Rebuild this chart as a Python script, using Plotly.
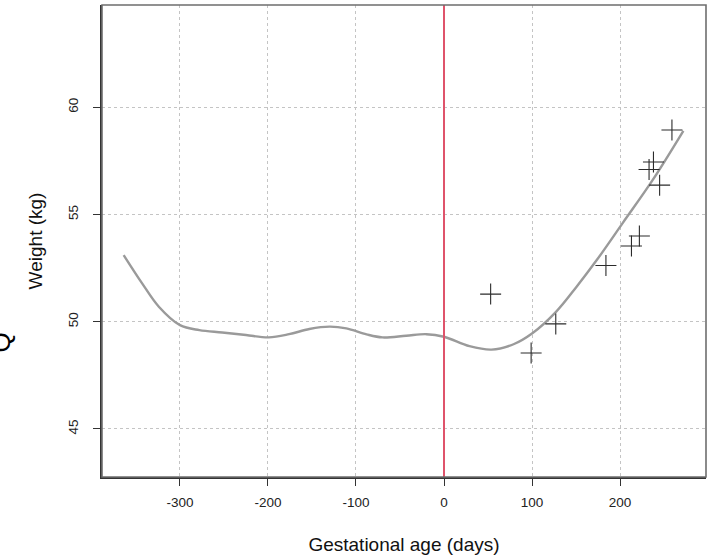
import plotly.graph_objects as go

# Observed data points (gestational age in days, weight in kg)
obs_days = [53, 99, 127, 184, 213, 222, 233, 238, 245, 259]
obs_weight = [51.29, 48.54, 49.9, 52.62, 53.53, 54.0, 57.1, 57.45, 56.37, 58.94]

# Smoothed trajectory
curve_days = [-364, -343, -324, -300, -278, -252, -225, -199, -176, -153, -130, -111,
              -88, -70, -43, -20, 0, 29, 54, 79, 100, 127, 150, 174, 203, 237, 272]
curve_weight = [53.11, 51.79, 50.7, 49.84, 49.61, 49.5, 49.38, 49.27, 49.42, 49.66, 49.77, 49.69,
                49.41, 49.27, 49.35, 49.42, 49.3, 48.86, 48.7, 48.95, 49.45, 50.45, 51.6, 52.9,
                54.6, 56.6, 58.9]

x_ticks = [-300, -200, -100, 0, 100, 200]
x_tick_labels = ["-300", "-200", "-100", "0", "100", "200"]
y_ticks = [45, 50, 55, 60]
y_tick_labels = ["45", "50", "55", "60"]

FONT = "Liberation Sans, Arial"

fig = go.Figure()

fig.add_trace(go.Scatter(x=curve_days, y=curve_weight, mode="lines",
                         line=dict(color="#9a9a9a", width=2.4, shape="spline", smoothing=1.0),
                         hoverinfo="skip", showlegend=False))
fig.add_trace(go.Scatter(x=obs_days, y=obs_weight, mode="markers",
                         marker=dict(symbol="cross-thin", size=15,
                                     line=dict(color="#2b2b2b", width=1.1)),
                         showlegend=False))

# red vertical line at day 0
fig.add_shape(type="line", xref="x", yref="paper", x0=0, x1=0, y0=0, y1=1,
              line=dict(color="#DF536B", width=2), layer="above")
# plot frame
fig.add_shape(type="rect", xref="paper", yref="paper", x0=0, x1=1, y0=0, y1=1,
              line=dict(color="#6e6e6e", width=1.6), layer="above")

# partial glyph at the left page edge
fig.add_annotation(text="Q", xref="paper", yref="paper", x=-0.195, y=0.26,
                   xanchor="left", textangle=-90, showarrow=False,
                   font=dict(family=FONT, size=26, color="black"))

axis_common = dict(showgrid=True, gridcolor="#c4c4c4", griddash="dot", gridwidth=1.1,
                   zeroline=False, showline=True, linecolor="#333333", linewidth=1.6,
                   ticks="outside", ticklen=7, tickwidth=1.4, tickcolor="#333333",
                   tickfont=dict(family=FONT, size=13.5, color="#222222"))

fig.update_xaxes(range=[-388.6, 297.7], tickvals=x_ticks, ticktext=x_tick_labels,
                 ticklabelstandoff=5,
                 title=dict(text="Gestational age (days)", standoff=29,
                            font=dict(family=FONT, size=19, color="#111111")),
                 **axis_common)
fig.update_yaxes(range=[42.76, 64.77], tickvals=y_ticks, ticktext=y_tick_labels, tickangle=-90,
                 ticklabelstandoff=10,
                 title=dict(text="Weight (kg)", standoff=18,
                            font=dict(family=FONT, size=19, color="#111111")),
                 **axis_common)

fig.update_layout(width=715, height=558, plot_bgcolor="white", paper_bgcolor="white",
                  margin=dict(l=102, r=9, t=5, b=81), showlegend=False)

fig.write_html("out.html", config={"displayModeBar": False},
               post_script="document.body.style.margin='0';document.body.style.padding='0';")
